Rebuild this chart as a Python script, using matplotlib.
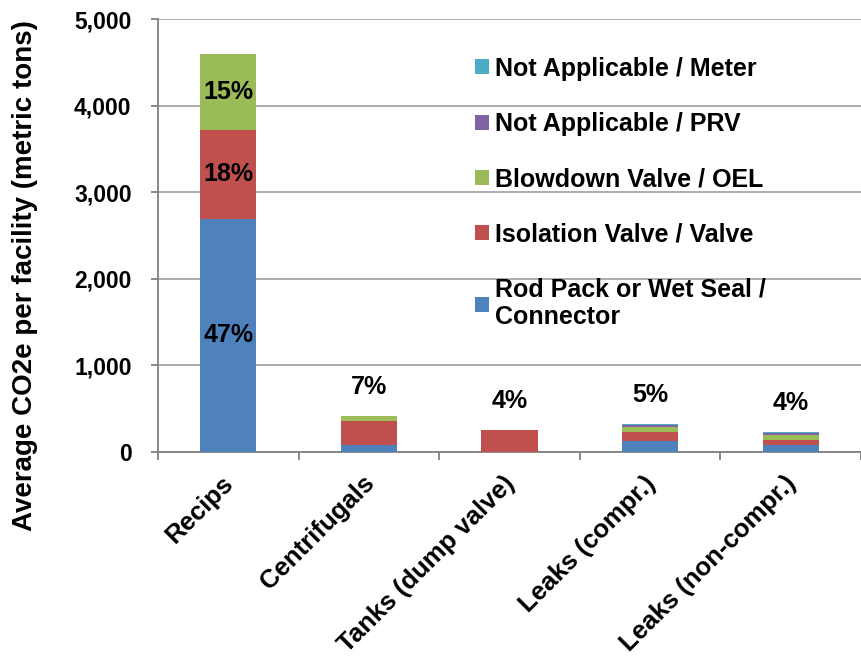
import matplotlib
matplotlib.use('Agg')
import matplotlib.pyplot as plt
import matplotlib.transforms as mtransforms
import numpy as np

# Categories and stacked values (metric tons CO2e per facility)
categories = ['Recips', 'Centrifugals', 'Tanks (dump valve)', 'Leaks (compr.)', 'Leaks (non-compr.)']
series_names = ['Rod Pack or Wet Seal /\nConnector', 'Isolation Valve / Valve',
                'Blowdown Valve / OEL', 'Not Applicable / PRV', 'Not Applicable / Meter']
rod_pack = [2690, 80, 0, 120, 77]
isolation = [1030, 275, 250, 107, 58]
blowdown = [870, 58, 0, 54, 53]
prv = [0, 0, 0, 23, 23]
meter = [0, 0, 0, 16, 16]
colors = ['#4F81BD', '#C0504D', '#9BBB59', '#8064A2', '#4BACC6']

# Share labels inside the Recips bar, and totals above the other bars
recips_shares = ['47%', '18%', '15%']
total_shares = ['', '7%', '4%', '5%', '4%']

plt.rcParams['font.family'] = ['Liberation Sans', 'DejaVu Sans']
plt.rcParams['font.weight'] = 'bold'

fig = plt.figure(figsize=(8.61, 6.57), dpi=100)
ax = fig.add_axes([158 / 861, (657 - 451.7) / 657, 703 / 861, 432.7 / 657])

x = np.arange(len(categories))
stack = [rod_pack, isolation, blowdown, prv, meter]
bottom = np.zeros(len(categories))
handles = []
for vals, name, col in zip(stack, series_names, colors):
    vals = np.array(vals, dtype=float)
    b = ax.bar(x, vals, 0.4, bottom=bottom, color=col, label=name, zorder=3)
    handles.append(b)
    bottom += vals

# Percent labels in the Recips bar
seg_bottom = 0
for vals, lab in zip(stack[:3], recips_shares):
    ax.text(x[0], seg_bottom + vals[0] / 2, lab, ha='center', va='center',
            fontsize=18, fontweight='bold', zorder=4)
    seg_bottom += vals[0]

# Percent labels above the smaller bars
for xi, tot, lab in zip(x, bottom, total_shares):
    if lab:
        ax.annotate(lab, (xi, tot), xytext=(0, 12), textcoords='offset points',
                    ha='center', va='bottom', fontsize=18, fontweight='bold')

ax.set_ylim(0, 5000)
ax.set_xlim(-0.5, 4.43)
ax.set_yticks(np.arange(0, 5001, 1000))
ax.set_yticklabels([f'{v:,}' for v in range(0, 5001, 1000)])
ax.yaxis.grid(True, color='#A6A6A6', linewidth=1.3, zorder=0)
ax.set_axisbelow(True)

ax.set_xticks(x)
ax.set_xticklabels(categories, rotation=45, ha='right', va='top')
ax.set_xticks(np.arange(-0.5, 5, 1), minor=True)
ax.tick_params(axis='x', which='major', length=0, pad=14, labelsize=18.5)
ax.tick_params(axis='x', which='minor', length=6, color='#808080', width=1.3)
ax.tick_params(axis='y', length=5, color='#808080', width=1.3, pad=14, labelsize=16.5)

# nudge the slanted labels to the right, like the original
shift = mtransforms.ScaledTranslation(10 / 100, 0, fig.dpi_scale_trans)
for lbl in ax.get_xticklabels():
    lbl.set_transform(lbl.get_transform() + shift)

for s in ['top', 'right']:
    ax.spines[s].set_visible(False)
for s in ['left', 'bottom']:
    ax.spines[s].set_color('#808080')
    ax.spines[s].set_linewidth(1.3)

ax.set_ylabel('Average CO2e per facility (metric tons)', fontsize=20, fontweight='bold')
ax.yaxis.set_label_coords(-0.1707, 0.408)

leg = ax.legend(handles[::-1], series_names[::-1], loc='upper left',
                bbox_to_anchor=(0.451, 0.913), frameon=False, fontsize=18,
                handlelength=0.55, handleheight=0.55, handletextpad=0.25,
                labelspacing=1.25, borderpad=0, borderaxespad=0)

fig.savefig('out.png', dpi=100)
